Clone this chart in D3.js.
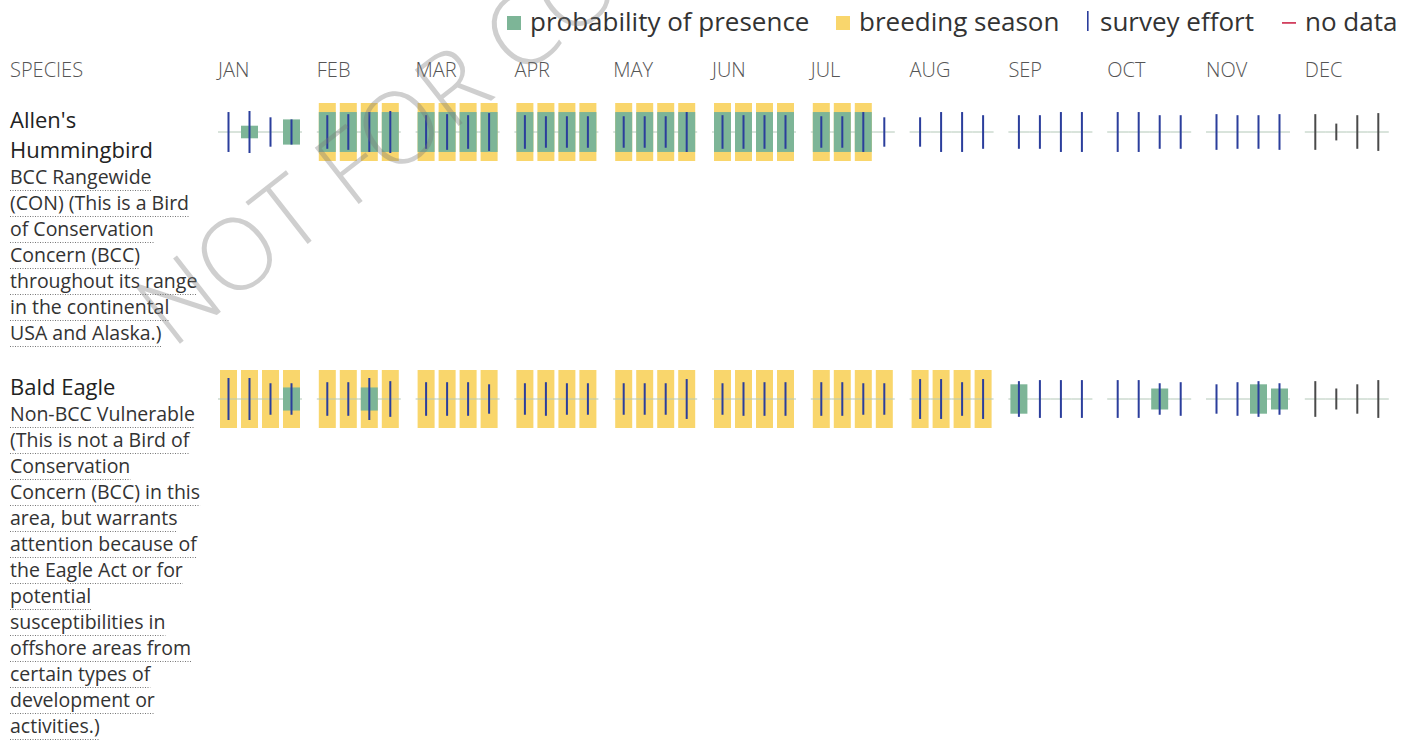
<!DOCTYPE html>
<html>
<head>
<meta charset="utf-8">
<script src="https://cdn.jsdelivr.net/npm/d3@7"></script>
<style>
  body { margin: 0; background: #fff; }
  svg { font-family: "Open Sans", "Noto Sans", sans-serif; }
</style>
</head>
<body>
<div id="chart"></div>
<script>
// months and species
var months = ["JAN","FEB","MAR","APR","MAY","JUN","JUL","AUG","SEP","OCT","NOV","DEC"];
var weeks = [0, 1, 2, 3];

var speciesNames = ["Allen's Hummingbird", "Bald Eagle"];
var speciesTitle = [["Allen's", "Hummingbird"], ["Bald Eagle"]];
var speciesNote = [
  ["BCC Rangewide", "(CON) (This is a Bird", "of Conservation", "Concern (BCC)",
   "throughout its range", "in the continental", "USA and Alaska.)"],
  ["Non-BCC Vulnerable", "(This is not a Bird of", "Conservation", "Concern (BCC) in this",
   "area, but warrants", "attention because of", "the Eagle Act or for", "potential",
   "susceptibilities in", "offshore areas from", "certain types of", "development or",
   "activities.)"]
];

// probability of presence, per week (0..1), 48 weeks
var allenPresence = [
  0, 0.3, 0, 0.6,   0.95, 0.95, 0.95, 0.95,   0.95, 0.95, 0.95, 0.95,   0.95, 0.95, 0.95, 0.95,
  0.95, 0.95, 0.95, 0.95,   0.95, 0.95, 0.95, 0.95,   0.95, 0.95, 0.95, 0,   0, 0, 0, 0,
  0, 0, 0, 0,   0, 0, 0, 0,   0, 0, 0, 0,   0, 0, 0, 0
];
var eaglePresence = [
  0, 0, 0, 0.55,   0, 0, 0.55, 0,   0, 0, 0, 0,   0, 0, 0, 0,
  0, 0, 0, 0,   0, 0, 0, 0,   0, 0, 0, 0,   0, 0, 0, 0,
  0.7, 0, 0, 0,   0, 0, 0.5, 0,   0, 0, 0.7, 0.5,   0, 0, 0, 0
];

// breeding season, per week (1 = breeding)
var allenBreeding = [
  0, 0, 0, 0,   1, 1, 1, 1,   1, 1, 1, 1,   1, 1, 1, 1,
  1, 1, 1, 1,   1, 1, 1, 1,   1, 1, 1, 0,   0, 0, 0, 0,
  0, 0, 0, 0,   0, 0, 0, 0,   0, 0, 0, 0,   0, 0, 0, 0
];
var eagleBreeding = [
  1, 1, 1, 1,   1, 1, 1, 1,   1, 1, 1, 1,   1, 1, 1, 1,
  1, 1, 1, 1,   1, 1, 1, 1,   1, 1, 1, 1,   1, 1, 1, 1,
  0, 0, 0, 0,   0, 0, 0, 0,   0, 0, 0, 0,   0, 0, 0, 0
];

// survey effort, per week (0..1)
var allenEffort = [
  0.95, 1.0, 0.7, 0.6,   0.8, 0.85, 0.95, 1.0,   0.8, 0.85, 0.8, 0.9,   0.8, 0.75, 0.75, 0.75,
  0.75, 0.75, 0.75, 0.95,   0.8, 0.8, 0.8, 0.8,   0.75, 0.75, 0.95, 0.7,   0.7, 0.95, 0.95, 0.8,
  0.8, 0.8, 0.95, 0.95,   0.95, 0.95, 0.8, 0.8,   0.85, 0.8, 0.8, 0.85,   0.85, 0.4, 0.8, 0.9
];
var eagleEffort = [
  1.0, 1.0, 0.75, 0.75,   0.8, 0.8, 1.0, 0.85,   0.8, 0.8, 0.8, 0.7,   0.75, 0.8, 0.75, 0.75,
  0.75, 0.75, 0.75, 0.95,   0.75, 0.8, 0.8, 0.8,   0.8, 0.8, 0.75, 0.75,   0.95, 0.95, 0.8, 0.95,
  0.85, 0.9, 0.9, 0.9,   0.9, 0.9, 0.75, 0.8,   0.7, 0.8, 0.85, 0.75,   0.85, 0.5, 0.7, 0.9
];

var legendLabels = ["probability of presence", "breeding season", "survey effort", "no data"];

var presenceByRow = [allenPresence, eaglePresence];
var breedingByRow = [allenBreeding, eagleBreeding];
var effortByRow = [allenEffort, eagleEffort];

var width = 1416, height = 740;
var cellH = 58, barMax = 42, effortMax = 42;
var colYellow = "#f9d66c", colGreen = "#7db597", colEffort = "#2b3e9c", colBase = "#b3c8b8";

var svg = d3.select("#chart").append("svg")
    .attr("width", width)
    .attr("height", height);

// x scales
var step = 98.8;
var x = d3.scaleBand()
    .domain(months)
    .range([220, 220 + 11 * step + 80])
    .paddingInner((step - 80) / step);
var xw = d3.scaleBand()
    .domain(weeks)
    .range([0, x.bandwidth()])
    .paddingInner(4 / 21);

// row tops derived from text lines
var rowTop = [];
var t = 100;
speciesNames.forEach(function(s, i) {
  rowTop.push(t);
  t += speciesTitle[i].length * 30 + speciesNote[i].length * 26 + 25;
});
var y = d3.scaleOrdinal().domain(speciesNames).range(rowTop);

// header
svg.append("text")
    .attr("x", 10).attr("y", 77)
    .attr("font-size", 20).attr("font-weight", 300).attr("fill", "#555")
    .text("SPECIES");
svg.append("g").selectAll("text")
    .data(months)
    .enter().append("text")
      .attr("x", function(d) { return x(d) - 2; })
      .attr("y", 77)
      .attr("font-size", 20).attr("font-weight", 300).attr("fill", "#555")
      .text(function(d) { return d; });

// legend
var legendX = [507, 836, 1086, 1282];
var lg = svg.append("g").selectAll("g")
    .data(legendLabels)
    .enter().append("g")
      .attr("transform", function(d, i) { return "translate(" + legendX[i] + ",0)"; });
lg.append("text")
    .attr("x", function(d, i) { return i == 2 ? 14 : 23; })
    .attr("y", 31)
    .attr("font-size", 26).attr("fill", "#333")
    .text(function(d) { return d; });
lg.filter(function(d, i) { return i < 2; }).append("rect")
    .attr("x", 0).attr("y", 16).attr("width", 14).attr("height", 14)
    .attr("fill", function(d, i) { return i == 0 ? colGreen : colYellow; });
lg.filter(function(d, i) { return i == 2; }).append("rect")
    .attr("x", 1).attr("y", 11).attr("width", 1.6).attr("height", 20)
    .attr("fill", colEffort);
lg.filter(function(d, i) { return i == 3; }).append("rect")
    .attr("x", 0).attr("y", 22).attr("width", 14).attr("height", 1.8)
    .attr("fill", "#d2405f");

// species text
var sp = svg.append("g").selectAll("g")
    .data(speciesNames)
    .enter().append("g")
      .attr("transform", function(d) { return "translate(10," + y(d) + ")"; });
sp.each(function(d, i) {
  var g = d3.select(this);
  speciesTitle[i].forEach(function(line, j) {
    g.append("text")
        .attr("x", 0).attr("y", 28 + j * 30)
        .attr("font-size", 22).attr("fill", "#222")
        .text(line);
  });
  var base = 28 + (speciesTitle[i].length - 1) * 30;
  speciesNote[i].forEach(function(line, j) {
    var yy = base + 26 * (j + 1);
    var tx = g.append("text")
        .attr("x", 0).attr("y", yy)
        .attr("font-size", 19.5).attr("fill", "#333")
        .text(line);
    var w = tx.node().getComputedTextLength();
    g.append("line")
        .attr("x1", 0).attr("x2", w)
        .attr("y1", yy + 6.5).attr("y2", yy + 6.5)
        .attr("stroke", "#777").attr("stroke-width", 1)
        .attr("stroke-dasharray", "1,1.5");
  });
});

// cells
speciesNames.forEach(function(s, r) {
  var cells = months.flatMap(function(m, mi) {
    return weeks.map(function(w) {
      var k = mi * 4 + w;
      return { month: m, mi: mi, week: w,
               presence: presenceByRow[r][k],
               breeding: breedingByRow[r][k],
               effort: effortByRow[r][k] };
    });
  });
  var top = y(s) + 3;
  var mid = top + cellH / 2;
  var g = svg.append("g").selectAll("g")
      .data(cells)
      .enter().append("g")
        .attr("transform", function(d) { return "translate(" + (x(d.month) + xw(d.week)) + ",0)"; });

  g.filter(function(d) { return d.breeding; }).append("rect")
      .attr("x", 0).attr("y", top)
      .attr("width", xw.bandwidth()).attr("height", cellH)
      .attr("fill", colYellow);

  g.append("line")
      .attr("x1", -2).attr("x2", xw.bandwidth() + 2)
      .attr("y1", mid).attr("y2", mid)
      .attr("stroke", colBase).attr("stroke-width", 1);

  g.filter(function(d) { return d.presence > 0; }).append("rect")
      .attr("x", 0)
      .attr("y", function(d) { return mid - d.presence * barMax / 2; })
      .attr("width", xw.bandwidth())
      .attr("height", function(d) { return d.presence * barMax; })
      .attr("fill", colGreen);

  g.append("rect")
      .attr("x", xw.bandwidth() / 2 - 1)
      .attr("y", function(d) { return mid - d.effort * effortMax / 2; })
      .attr("width", 2)
      .attr("height", function(d) { return d.effort * effortMax; })
      .attr("fill", function(d) { return d.mi == 11 ? "#4a4a4a" : colEffort; });
});

// watermark on top
svg.append("text")
    .attr("transform", "translate(172,350) rotate(-38)")
    .attr("font-size", 100)
    .attr("font-weight", 300)
    .attr("fill", "#777")
    .attr("opacity", 0.35)
    .text("NOT FOR CONSULTATION");
</script>
</body>
</html>
